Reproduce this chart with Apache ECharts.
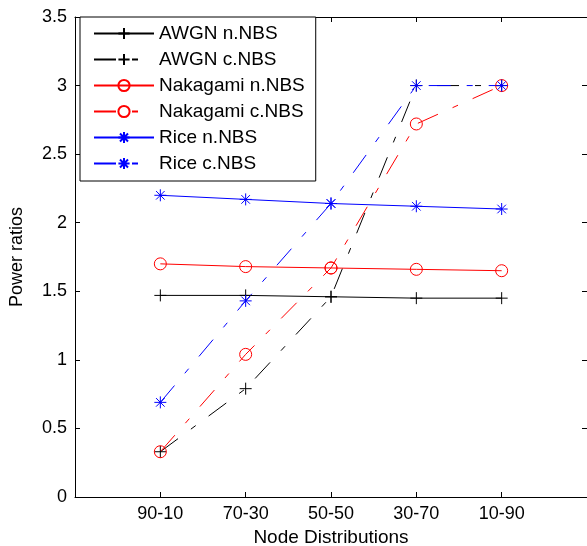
<!DOCTYPE html>
<html>
<head>
<meta charset="utf-8">
<script src="https://cdn.jsdelivr.net/npm/echarts@6/dist/echarts.min.js"></script>
<style>
  html, body { margin: 0; padding: 0; background: #fff; }
  #chart { width: 587px; height: 546px; }
</style>
</head>
<body>
<div id="chart"></div>
<script>
// x categories (placed at x = 1..5 on a 0..6 value axis, matlab style)
const categories = ["90-10", "70-30", "50-50", "30-70", "10-90"];
const yTicks = [0, 0.5, 1, 1.5, 2, 2.5, 3, 3.5];

// values
const awgnN = [1.47, 1.47, 1.46, 1.45, 1.45];
const awgnC = [0.33, 0.79, 1.46, 3.0, 3.0];
const nakaN = [1.70, 1.68, 1.67, 1.66, 1.65];
const nakaC = [0.33, 1.04, 1.67, 2.72, 3.0];
const riceN = [2.20, 2.17, 2.14, 2.12, 2.10];
const riceC = [0.69, 1.43, 2.14, 3.0, 3.0];

const FONT = "'Liberation Sans', Arial, sans-serif";
// matlab '-.' as it looks in the exported picture: long dash, gap, short dash, gap
const DASHDOT = [22, 16, 6, 16];

// marker shapes
const PLUS = "path://M0,-6L0,6M-6,0L6,0";
const STAR = "path://M0,-6L0,6M-6,0L6,0M-4.3,-4.3L4.3,4.3M-4.3,4.3L4.3,-4.3";
const RING = "path://M6,0A6,6,0,1,1,-6,0A6,6,0,1,1,6,0Z";

const toPairs = (arr) => arr.map((v, i) => [i + 1, v]);

function makeSeries(name, data, color, symbol, dashed) {
	return {
		name,
		type: "line",
		data: toPairs(data),
		symbol,
		symbolSize: 12,
		showSymbol: true,
		lineStyle: { color, width: 1, type: dashed ? DASHDOT : "solid" },
		itemStyle: { color: "transparent", borderColor: color, borderWidth: 1 },
		emphasis: { disabled: true },
		z: 3,
	};
}

const chart = echarts.init(document.getElementById("chart"), null, { renderer: "canvas" });

chart.setOption({
	animation: false,
	backgroundColor: "#fff",
	// legend box sits in the top-left corner of the axes
	legend: {
		orient: "vertical",
		left: 80,
		top: 17,
		padding: [7, 11, 8, 13],
		itemWidth: 60,
		itemHeight: 14,
		itemGap: 7,
		backgroundColor: "#fff",
		borderColor: "#000",
		borderWidth: 1,
		textStyle: { fontFamily: FONT, fontSize: 19, color: "#000" },
		data: ["AWGN n.NBS", "AWGN c.NBS", "Nakagami n.NBS", "Nakagami c.NBS", "Rice n.NBS", "Rice c.NBS"],
	},
	// keep the axes box fixed, don't let v6 shrink it to fit the labels
	grid: { left: 75, right: 0, top: 17, bottom: 49, containLabel: false, outerBoundsMode: "none" },
	xAxis: [
		{
			type: "value",
			min: 0,
			max: 6,
			interval: 1,
			name: "Node Distributions",
			nameLocation: "middle",
			nameGap: 29,
			nameTextStyle: { fontFamily: FONT, fontSize: 19, color: "#000" },
			axisLine: { lineStyle: { color: "#000", width: 1 } },
			axisTick: { inside: true, length: 5, lineStyle: { color: "#000" } },
			axisLabel: {
				fontFamily: FONT,
				fontSize: 18,
				color: "#000",
				margin: 8,
				formatter: (v) => categories[v - 1] || "",
			},
			splitLine: { show: false },
		},
		{
			type: "value",
			position: "top",
			min: 0,
			max: 6,
			interval: 1,
			axisLine: { onZero: false, lineStyle: { color: "#000", width: 1 } },
			axisTick: { inside: true, length: 5, lineStyle: { color: "#000" } },
			axisLabel: { show: false },
			splitLine: { show: false },
		},
	],
	yAxis: [
		{
			type: "value",
			min: yTicks[0],
			max: yTicks[yTicks.length - 1],
			interval: 0.5,
			name: "Power ratios",
			nameLocation: "middle",
			nameGap: 49,
			nameTextStyle: { fontFamily: FONT, fontSize: 18, color: "#000" },
			axisLine: { show: true, lineStyle: { color: "#000", width: 1 } },
			axisTick: { show: true, inside: true, length: 5, lineStyle: { color: "#000" } },
			axisLabel: { fontFamily: FONT, fontSize: 18, color: "#000", margin: 8 },
			splitLine: { show: false },
		},
		{
			type: "value",
			position: "right",
			min: yTicks[0],
			max: yTicks[yTicks.length - 1],
			interval: 0.5,
			axisLine: { show: true, onZero: false, lineStyle: { color: "#000", width: 1 } },
			axisTick: { show: true, inside: true, length: 5, lineStyle: { color: "#000" } },
			axisLabel: { show: false },
			splitLine: { show: false },
		},
	],
	series: [
		makeSeries("AWGN n.NBS", awgnN, "#000000", PLUS, false),
		makeSeries("AWGN c.NBS", awgnC, "#000000", PLUS, true),
		makeSeries("Nakagami n.NBS", nakaN, "#ff0000", RING, false),
		makeSeries("Nakagami c.NBS", nakaC, "#ff0000", RING, true),
		makeSeries("Rice n.NBS", riceN, "#0000ff", STAR, false),
		makeSeries("Rice c.NBS", riceC, "#0000ff", STAR, true),
	],
});
</script>
</body>
</html>
